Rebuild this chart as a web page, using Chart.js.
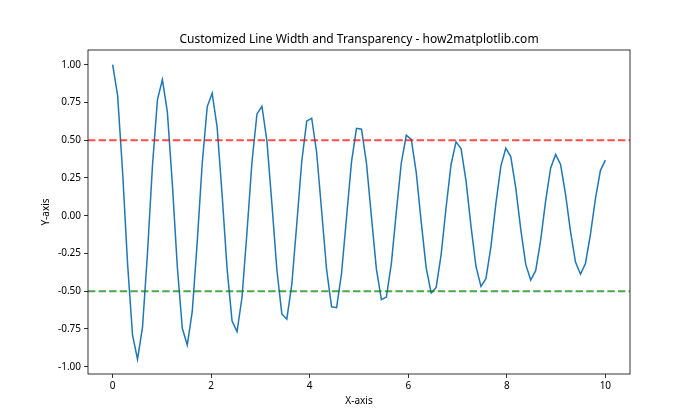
<!DOCTYPE html>
<html>
<head>
<meta charset="utf-8">
<script src="https://cdn.jsdelivr.net/npm/chart.js@4.4.0/dist/chart.umd.min.js"></script>
<style>
  html, body { margin: 0; padding: 0; background: #fff; }
  #wrap { width: 700px; height: 420px; }
</style>
</head>
<body>
<div id="wrap"><canvas id="chart" width="700" height="420"></canvas></div>
<script>
const xValues = [
    0.000, 0.101, 0.202, 0.303, 0.404, 0.505, 0.606, 0.707, 0.808, 0.909,
    1.010, 1.111, 1.212, 1.313, 1.414, 1.515, 1.616, 1.717, 1.818, 1.919,
    2.020, 2.121, 2.222, 2.323, 2.424, 2.525, 2.626, 2.727, 2.828, 2.929,
    3.030, 3.131, 3.232, 3.333, 3.434, 3.535, 3.636, 3.737, 3.838, 3.939,
    4.040, 4.141, 4.242, 4.343, 4.444, 4.545, 4.646, 4.747, 4.848, 4.949,
    5.051, 5.152, 5.253, 5.354, 5.455, 5.556, 5.657, 5.758, 5.859, 5.960,
    6.061, 6.162, 6.263, 6.364, 6.465, 6.566, 6.667, 6.768, 6.869, 6.970,
    7.071, 7.172, 7.273, 7.374, 7.475, 7.576, 7.677, 7.778, 7.879, 7.980,
    8.081, 8.182, 8.283, 8.384, 8.485, 8.586, 8.687, 8.788, 8.889, 8.990,
    9.091, 9.192, 9.293, 9.394, 9.495, 9.596, 9.697, 9.798, 9.899, 10.000
];
const yValues = [
    1.000, 0.797, 0.291, -0.317, -0.791, -0.950, -0.740, -0.248, 0.329, 0.768,
    0.902, 0.686, 0.209, -0.339, -0.745, -0.856, -0.634, -0.173, 0.346, 0.721,
    0.811, 0.585, 0.139, -0.352, -0.697, -0.767, -0.540, -0.108, 0.356, 0.674,
    0.725, 0.496, 0.080, -0.358, -0.650, -0.685, -0.455, -0.055, 0.359, 0.626,
    0.646, 0.417, 0.031, -0.359, -0.603, -0.609, -0.381, -0.010, 0.357, 0.579,
    0.573, 0.347, -0.009, -0.355, -0.556, -0.539, -0.315, 0.027, 0.351, 0.533,
    0.506, 0.285, -0.042, -0.347, -0.511, -0.475, -0.257, 0.056, 0.341, 0.489,
    0.445, 0.231, -0.069, -0.336, -0.468, -0.417, -0.206, 0.080, 0.329, 0.447,
    0.390, 0.183, -0.090, -0.322, -0.426, -0.364, -0.162, 0.098, 0.315, 0.406,
    0.339, 0.142, -0.105, -0.307, -0.387, -0.316, -0.124, 0.112, 0.299, 0.368
];
const xTicks = [0, 2, 4, 6, 8, 10];
const yTicks = [-1.0, -0.75, -0.5, -0.25, 0.0, 0.25, 0.5, 0.75, 1.0];
const refLines = [
    { value: 0.5, color: 'rgba(255,0,0,0.7)' },
    { value: -0.5, color: 'rgba(0,128,0,0.7)' }
];

const FONT = "'Noto Sans', 'DejaVu Sans', sans-serif";

const frame = {
    id: 'frame',
    afterDatasetsDraw(chart) {
        const { ctx, chartArea: a, scales } = chart;
        ctx.save();
        ctx.lineWidth = 2;
        ctx.setLineDash([7.4, 3.2]);
        refLines.forEach(r => {
            const y = scales.y.getPixelForValue(r.value);
            ctx.strokeStyle = r.color;
            ctx.beginPath();
            ctx.moveTo(a.left, y);
            ctx.lineTo(a.right, y);
            ctx.stroke();
        });
        ctx.setLineDash([]);
        ctx.strokeStyle = '#000';
        ctx.lineWidth = 0.8;
        ctx.strokeRect(a.left, a.top, a.right - a.left, a.bottom - a.top);

        ctx.fillStyle = '#000';
        ctx.textAlign = 'center';
        ctx.textBaseline = 'middle';
        ctx.font = '12px ' + FONT;
        ctx.fillText('Customized Line Width and Transparency - how2matplotlib.com', (a.left + a.right) / 2, 40);
        ctx.font = '10px ' + FONT;
        ctx.fillText('X-axis', (a.left + a.right) / 2, 401);
        ctx.translate(46, (a.top + a.bottom) / 2);
        ctx.rotate(-Math.PI / 2);
        ctx.fillText('Y-axis', 0, 0);
        ctx.restore();
    }
};

new Chart(document.getElementById('chart'), {
    type: 'line',
    data: {
        datasets: [{
            data: xValues.map((x, i) => ({ x: x, y: yValues[i] })),
            borderColor: '#1f77b4',
            borderWidth: 1.5,
            pointRadius: 0,
            tension: 0,
            fill: false
        }]
    },
    options: {
        responsive: false,
        animation: false,
        layout: { padding: { left: 0, right: 70, top: 50, bottom: 0 } },
        plugins: { legend: { display: false }, tooltip: { enabled: false } },
        scales: {
            x: {
                type: 'linear',
                min: -0.5,
                max: 10.5,
                afterBuildTicks: s => { s.ticks = xTicks.map(v => ({ value: v })); },
                afterFit: s => { s.height = 46; },
                grid: { drawOnChartArea: false, drawTicks: true, tickLength: 4, color: '#000', lineWidth: 0.8 },
                border: { display: false },
                ticks: { color: '#000', font: { family: FONT, size: 10 }, padding: 2, maxRotation: 0, callback: v => String(v) }
            },
            y: {
                min: -1.048,
                max: 1.0975,
                afterBuildTicks: s => { s.ticks = yTicks.map(v => ({ value: v })); },
                afterFit: s => { s.width = 88; },
                grid: { drawOnChartArea: false, drawTicks: true, tickLength: 4, color: '#000', lineWidth: 0.8 },
                border: { display: false },
                ticks: { color: '#000', font: { family: FONT, size: 10 }, padding: 3, callback: v => v.toFixed(2) }
            }
        }
    },
    plugins: [frame]
});
</script>
</body>
</html>
